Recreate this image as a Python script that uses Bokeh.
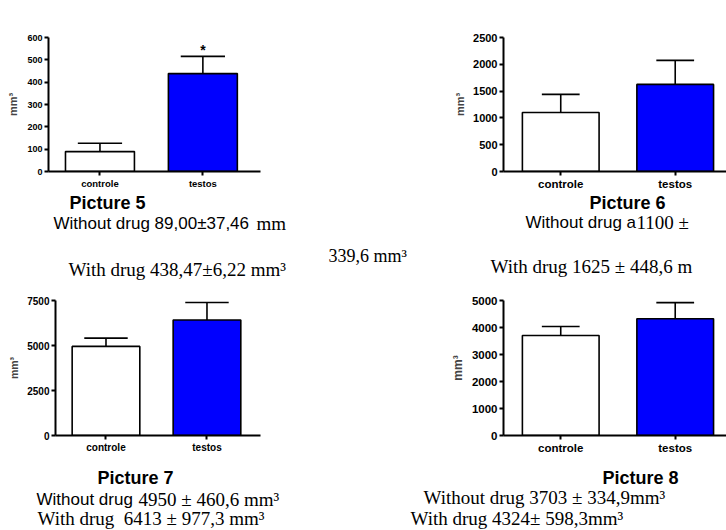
from bokeh.plotting import figure
from bokeh.models import FixedTicker
from bokeh.layouts import column, row
from bokeh.core.properties import value
from bokeh.embed import file_html
from bokeh.resources import INLINE

# ---------------- data ----------------
CATEGORIES = ["controle", "testos"]
BAR_COLORS = ["#ffffff", "#0000ff"]

P5_MEANS = [89.00, 438.47]
P5_ERRS = [37.46, 77.0]
P5_TICKS = [0, 100, 200, 300, 400, 500, 600]

P6_MEANS = [1100, 1625]
P6_ERRS = [339.6, 448.6]
P6_TICKS = [0, 500, 1000, 1500, 2000, 2500]

P7_MEANS = [4950, 6413]
P7_ERRS = [460.6, 977.3]
P7_TICKS = [0, 2500, 5000, 7500]

P8_MEANS = [3703, 4324]
P8_ERRS = [334.9, 598.3]
P8_TICKS = [0, 1000, 2000, 3000, 4000, 5000]

Y_LABEL = "mm³"
SIG_MARK = "*"

CAP5_TITLE = "Picture 5"
CAP5_L1A = "Without drug 89,00±37,46"
CAP5_L1B = "mm"
CAP5_L1C = "339,6 mm³"
CAP5_L2 = "With drug 438,47±6,22 mm³"

CAP6_TITLE = "Picture 6"
CAP6_L1A = "Without drug a"
CAP6_L1B = "1100 ±"
CAP6_L2 = "With drug 1625 ± 448,6 m"

CAP7_TITLE = "Picture 7"
CAP7_L1A = "Without drug"
CAP7_L1B = "4950 ± 460,6 mm³"
CAP7_L2 = "With drug \u00a06413 ± 977,3 mm³"

CAP8_TITLE = "Picture 8"
CAP8_L1 = "Without drug 3703 ± 334,9mm³"
CAP8_L2 = "With drug 4324± 598,3mm³"

X_POS = [0.5, 1.5]

SANS = "Liberation Sans"
SERIF = "Liberation Serif"


def panel(w, h, mbl, mbr, mbt, mbb, x_end, y_end, ticks, means, errs, cap_w,
          tick_fs, cat_fs, lab_fs, lab_stand):
    p = figure(width=w, height=h, x_range=(0, x_end), y_range=(0, y_end),
               output_backend="svg", toolbar_location=None,
               min_border_left=mbl, min_border_right=mbr,
               min_border_top=mbt, min_border_bottom=mbb)
    p.outline_line_color = None
    p.grid.visible = False
    p.background_fill_color = "white"
    p.border_fill_color = "white"

    tops = [m + e for m, e in zip(means, errs)]
    p.segment(x0=X_POS, y0=means, x1=X_POS, y1=tops, line_color="black", line_width=1.6)
    p.segment(x0=[x - cap_w / 2 for x in X_POS], y0=tops,
              x1=[x + cap_w / 2 for x in X_POS], y1=tops,
              line_color="black", line_width=1.6)
    p.vbar(x=X_POS, top=means, bottom=0, width=0.67, fill_color=BAR_COLORS,
           line_color="black", line_width=1.6)

    for ax in (p.xaxis[0], p.yaxis[0]):
        ax.axis_line_width = 2
        ax.axis_line_color = "black"
        ax.major_tick_line_width = 2
        ax.major_tick_in = 0
        ax.major_tick_out = 4
        ax.minor_tick_line_color = None
        ax.major_label_standoff = 2
        ax.major_label_text_font = SANS
        ax.major_label_text_font_style = "bold"
        ax.major_label_text_color = "black"

    p.xaxis.ticker = FixedTicker(ticks=X_POS)
    p.xaxis.major_label_overrides = dict(zip(X_POS, CATEGORIES))
    p.xaxis.major_label_text_font_size = cat_fs

    p.yaxis.ticker = FixedTicker(ticks=ticks)
    p.yaxis.major_label_text_font_size = tick_fs
    p.yaxis.axis_label = Y_LABEL
    p.yaxis.axis_label_text_font = SANS
    p.yaxis.axis_label_text_font_style = "bold"
    p.yaxis.axis_label_text_font_size = lab_fs
    p.yaxis.axis_label_standoff = lab_stand
    return p, tops


def caption_fig(w, h):
    c = figure(width=w, height=h, x_range=(0, w), y_range=(h, 0),
               output_backend="svg", toolbar_location=None, min_border=0)
    c.axis.visible = False
    c.grid.visible = False
    c.outline_line_color = None
    c.background_fill_color = "white"
    c.border_fill_color = "white"
    return c


def put(c, x, y, text, font, size, style="normal"):
    c.text(x=[x], y=[y], text=[text], text_font=value(font), text_font_size=size,
           text_font_style=style, text_color="black", text_baseline="alphabetic",
           text_align="left")


# Picture 5 (top-left)
p5, tops5 = panel(440, 194, 48, 180, 37, 20, 2.06, 600, P5_TICKS, P5_MEANS, P5_ERRS,
                  0.43, "9px", "9.5px", "11px", 5)
p5.text(x=[X_POS[1]], y=[tops5[1]], text=[SIG_MARK], text_font=value(SANS),
        text_font_style="bold", text_font_size="14px", text_align="center",
        text_baseline="alphabetic", text_color="black", y_offset=-6)

# Picture 6 (top-right)
p6, _ = panel(286, 194, 63, 0, 17, 23, 1.948, 2500, P6_TICKS, P6_MEANS, P6_ERRS,
              0.33, "11px", "11.5px", "11px", 4)

# Picture 7 (bottom-left)
p7, _ = panel(340, 180, 55, 80, 18, 27, 2.03, 7500, P7_TICKS, P7_MEANS, P7_ERRS,
              0.43, "10px", "10px", "10.5px", 4)

# Picture 8 (bottom-right)
p8, _ = panel(386, 180, 163, 0, 7, 19, 1.948, 5000, P8_TICKS, P8_MEANS, P8_ERRS,
              0.33, "11.5px", "11.5px", "12px", 4)

# captions
c5 = caption_fig(440, 88)
put(c5, 69, 8, CAP5_TITLE, SANS, "18px", "bold")
put(c5, 53, 29, CAP5_L1A, SANS, "17px")
put(c5, 256, 29, CAP5_L1B, SERIF, "19px")
put(c5, 328, 61, CAP5_L1C, SERIF, "18px")
put(c5, 68, 75, CAP5_L2, SERIF, "19px")

c6 = caption_fig(286, 88)
put(c6, 149, 8, CAP6_TITLE, SANS, "18px", "bold")
put(c6, 85, 28, CAP6_L1A, SANS, "17px")
put(c6, 196, 28, CAP6_L1B, SERIF, "19px")
put(c6, 50, 72, CAP6_L2, SERIF, "19px")

c7 = caption_fig(340, 68)
put(c7, 97, 15, CAP7_TITLE, SANS, "18px", "bold")
put(c7, 36, 37, CAP7_L1A, SANS, "17px")
put(c7, 138, 37, CAP7_L1B, SERIF, "19px")
put(c7, 37, 56, CAP7_L2, SERIF, "19px")

c8 = caption_fig(386, 68)
put(c8, 262, 15, CAP8_TITLE, SANS, "18px", "bold")
put(c8, 83, 35, CAP8_L1, SERIF, "19px")
put(c8, 70, 56, CAP8_L2, SERIF, "19px")

layout = column(row(p5, p6), row(c5, c6), row(p7, p8), row(c7, c8))
open("out.html", "w").write(file_html(layout, INLINE))
